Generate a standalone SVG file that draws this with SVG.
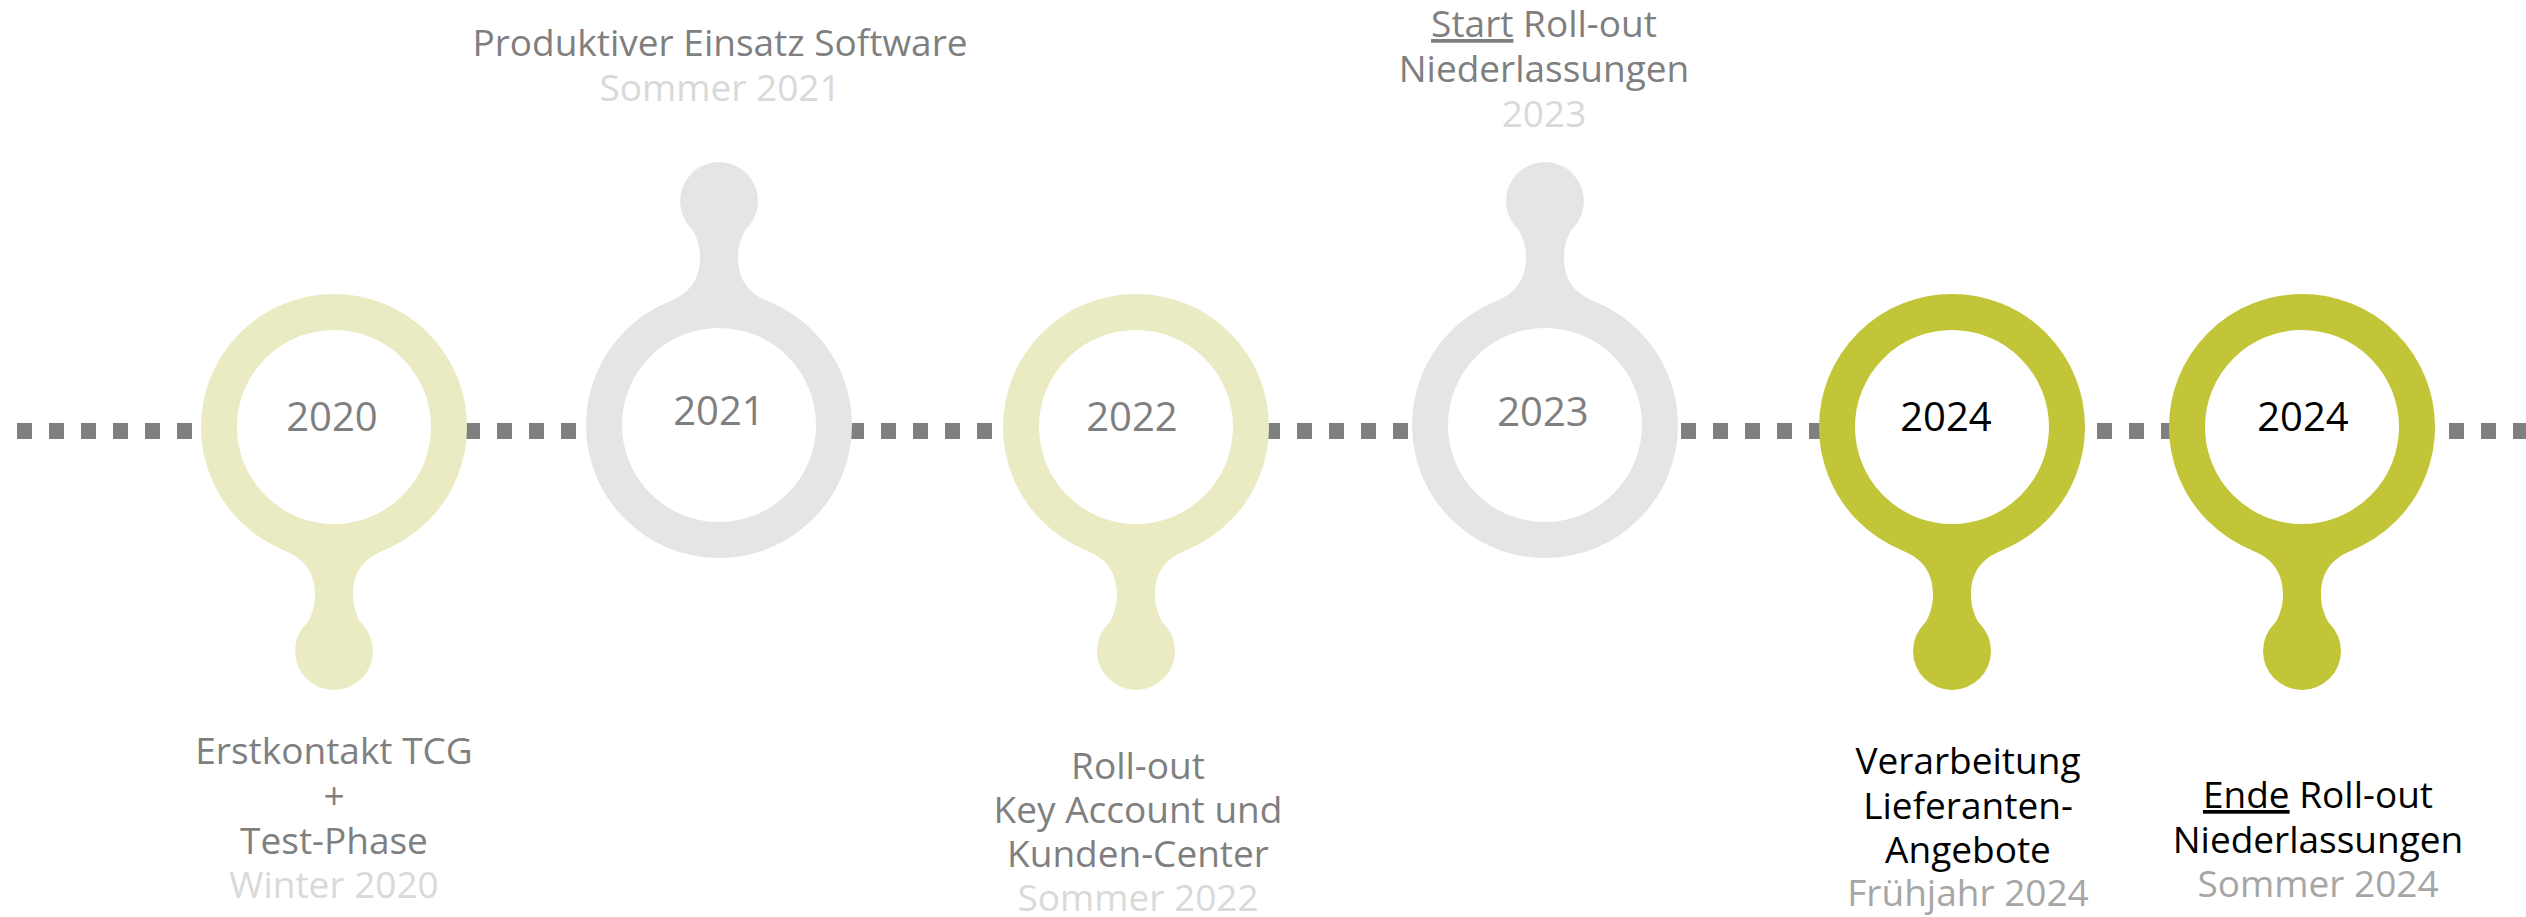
<svg xmlns="http://www.w3.org/2000/svg" xmlns:xlink="http://www.w3.org/1999/xlink" width="2526" height="917" viewBox="0 0 2526 917">
<style>
  text { font-family: "Open Sans", "Noto Sans", "Liberation Sans", sans-serif; text-anchor: middle; }
  .year { font-size: 40px; fill: #7F7F7F; }
  .year-dark { font-size: 40px; fill: #000000; }
  .lbl { font-size: 37px; fill: #7F7F7F; }
  .lbl-dark { font-size: 37px; fill: #000000; }
  .date { font-size: 37px; fill: #D9D9D9; }
  .date-mid { font-size: 37px; fill: #A6A6A6; }
  .ul { text-decoration: underline; }
  .pale { fill: #EAEBC2; stroke: #EAEBC2; }
  .grey { fill: #E5E5E5; stroke: #E5E5E5; }
  .lime { fill: #C3C538; stroke: #C3C538; }
  .ring { fill: #FFFFFF; stroke-width: 36; }
  .shape { stroke: none; }
  .dots { stroke: #808080; stroke-width: 16; stroke-dasharray: 15 17; fill: none; }
</style>
<defs>
  <path id="stem" d="M -50.6,123 C -35,129.5 -19,140 -19,168 C -19,180 -23,190 -28,198 L 28,198 C 23,190 19,180 19,168 C 19,140 35,129.5 50.6,123 Z"/>
  <circle id="knob" cx="0" cy="224" r="39"/>
</defs>
<rect x="0" y="0" width="2526" height="917" fill="#FFFFFF"/>

<g id="connectors">
  <line class="dots" x1="17" y1="431" x2="2526" y2="431"/>
</g>

<g id="node-2020">
  <g transform="translate(334,427)" class="pale">
    <use xlink:href="#stem" class="shape"/>
    <use xlink:href="#knob" class="shape"/>
    <circle r="115" class="ring"/>
  </g>
  <text class="year" x="332" y="431">2020</text>
  <text class="lbl" x="334" y="764">Erstkontakt TCG</text>
  <text class="lbl" x="334" y="809">+</text>
  <text class="lbl" x="334" y="854">Test-Phase</text>
  <text class="date" x="334" y="898">Winter 2020</text>
</g>

<g id="node-2021">
  <g transform="translate(719,425) scale(1,-1)" class="grey">
    <use xlink:href="#stem" class="shape"/>
    <use xlink:href="#knob" class="shape"/>
    <circle r="115" class="ring"/>
  </g>
  <text class="year" x="719" y="425">2021</text>
  <text class="lbl" x="720" y="56">Produktiver Einsatz Software</text>
  <text class="date" x="720" y="101">Sommer 2021</text>
</g>

<g id="node-2022">
  <g transform="translate(1136,427)" class="pale">
    <use xlink:href="#stem" class="shape"/>
    <use xlink:href="#knob" class="shape"/>
    <circle r="115" class="ring"/>
  </g>
  <text class="year" x="1132" y="431">2022</text>
  <text class="lbl" x="1138" y="779">Roll-out</text>
  <text class="lbl" x="1138" y="823">Key Account und</text>
  <text class="lbl" x="1138" y="867">Kunden-Center</text>
  <text class="date" x="1138" y="911">Sommer 2022</text>
</g>

<g id="node-2023">
  <g transform="translate(1545,425) scale(1,-1)" class="grey">
    <use xlink:href="#stem" class="shape"/>
    <use xlink:href="#knob" class="shape"/>
    <circle r="115" class="ring"/>
  </g>
  <text class="year" x="1543" y="426">2023</text>
  <text class="lbl" x="1544" y="37"><tspan class="ul">Start</tspan> Roll-out</text>
  <text class="lbl" x="1544" y="82">Niederlassungen</text>
  <text class="date" x="1544" y="127">2023</text>
</g>

<g id="node-2024-a">
  <g transform="translate(1952,427)" class="lime">
    <use xlink:href="#stem" class="shape"/>
    <use xlink:href="#knob" class="shape"/>
    <circle r="115" class="ring"/>
  </g>
  <text class="year-dark" x="1946" y="431">2024</text>
  <text class="lbl-dark" x="1968" y="774">Verarbeitung</text>
  <text class="lbl-dark" x="1968" y="819">Lieferanten-</text>
  <text class="lbl-dark" x="1968" y="863">Angebote</text>
  <text class="date-mid" x="1968" y="906">Frühjahr 2024</text>
</g>

<g id="node-2024-b">
  <g transform="translate(2302,427)" class="lime">
    <use xlink:href="#stem" class="shape"/>
    <use xlink:href="#knob" class="shape"/>
    <circle r="115" class="ring"/>
  </g>
  <text class="year-dark" x="2303" y="431">2024</text>
  <text class="lbl-dark" x="2318" y="808"><tspan class="ul">Ende</tspan> Roll-out</text>
  <text class="lbl-dark" x="2318" y="853">Niederlassungen</text>
  <text class="date-mid" x="2318" y="897">Sommer 2024</text>
</g>
</svg>
